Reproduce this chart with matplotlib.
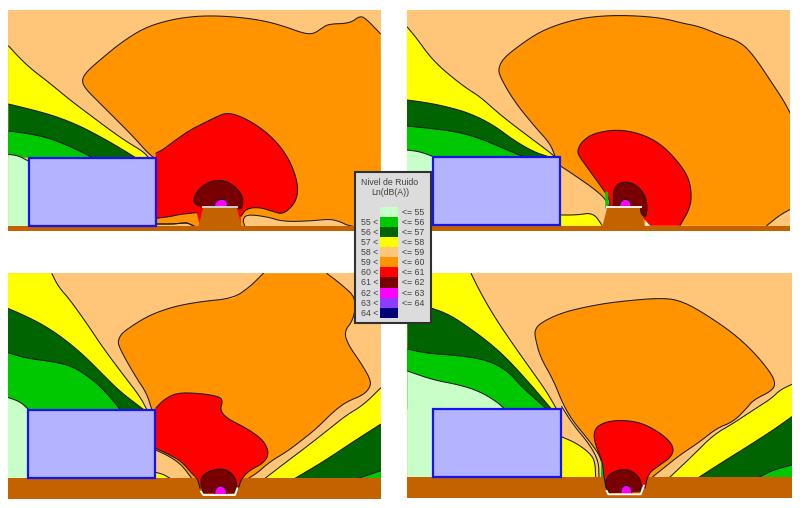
import matplotlib
matplotlib.use("Agg")
import matplotlib.pyplot as plt
from matplotlib.patches import Polygon, Rectangle

plt.rcParams['font.family'] = ['Liberation Sans', 'DejaVu Sans']

W, H = 800, 508

# colours of the noise classes
C_LGREEN = '#C8FFC8'
C_GREEN = '#00C800'
C_DGREEN = '#006400'
C_YELLOW = '#FFFF00'
C_LORANGE = '#FFC67A'
C_ORANGE = '#FF9400'
C_RED = '#FF0000'
C_DRED = '#780000'
C_MAGENTA = '#FF00FF'
C_VIOLET = '#8C3CFF'
C_NAVY = '#000078'
C_GROUND = '#C46200'
C_BUILD = '#B3B3FF'
C_BUILD_EDGE = '#1414F0'

legend_colors = [C_LGREEN, C_GREEN, C_DGREEN, C_YELLOW, C_LORANGE, C_ORANGE,
                 C_RED, C_DRED, C_MAGENTA, C_VIOLET, C_NAVY]
legend_low = [None, 55, 56, 57, 58, 59, 60, 61, 62, 63, 64]
legend_high = [55, 56, 57, 58, 59, 60, 61, 62, 63, 64, None]

# panel 1, contours (curve, closing points)
p1_yellow = [(25,137),(60,175),(95,208),(150,250),(210,300),(270,345),(330,390),(380,425),(430,455),(445,472)]
p1_yellow_end = [(25,472)]
p1_dgreen = [(25,312),(100,330),(170,350),(240,378),(310,415),(370,450),(405,472)]
p1_dgreen_end = [(25,472)]
p1_green = [(25,393),(80,400),(140,412),(200,435),(250,458),(275,472)]
p1_green_end = [(25,472)]
p1_lgreen = [(25,463),(55,467),(85,483)]
p1_lgreen_end = [(85,680),(25,680)]
p1_orange = [(467,672),(520,672),(560,668),(582,678)]
p1_orange2 = [(1142,102),(1100,58),(1080,47),(1050,70),(985,72),(965,85),(940,102),(910,100),(850,78),(790,62),
              (720,52),(640,47),(570,50),(500,62),(430,85),(360,130),(300,180),(260,215),(245,240),(255,265),
              (300,310),(350,360),(400,410),(440,455),(460,472)]
p1_orange3 = [(1062,680),(1040,675),(1020,665),(990,657),(930,663),(850,665),(800,650),(740,643),(728,660),(735,680)]
p1_red = [(722,650),(740,625),(780,622),(820,635),(850,643),(885,610),(895,570),(885,520),(860,465),(820,415),
          (770,375),(720,348),(680,338),(650,350),(610,370),(570,390),(520,425),(490,448),(467,460)]
p1_red2 = [(467,655),(510,650),(540,643),(590,638)]
p1_dred = [(608,622),(585,612),(580,600),(590,575),(620,548),(655,539),(690,548),(720,575),(730,600),(725,630),(710,622)]
p1_magenta = [(641,622),(648,604),(665,596),(682,604),(682,622)]
p1_mound = [(610,622),(710,622),(725,680),(595,680)]

# panel 2
p2_yellow = [(21,80),(50,115),(90,170),(130,210),(195,262),(240,290),(290,335),(340,375),(400,420),(440,450),(465,470)]
p2_yellow_end = [(21,470)]
p2_dgreen = [(21,300),(80,308),(140,320),(210,340),(280,375),(340,420),(400,455),(445,470)]
p2_dgreen_end = [(21,470)]
p2_green = [(21,378),(90,385),(170,395),(240,415),(310,445),(370,470)]
p2_green_end = [(21,470)]
p2_lgreen = [(21,450),(60,455),(100,470)]
p2_lgreen_end = [(100,677),(21,677)]
p2_yellow2 = [(482,645),(530,645),(580,638),(607,677)]
p2_yellow2_end = [(482,677)]
p2_orange = [(465,468),(450,430),(400,375),(340,300),(300,230),(295,205),(310,175),(360,135),(420,95),(490,68),
             (560,52),(640,46),(720,48),(790,55),(850,70),(900,80),(960,105),(1020,125),(1060,165),(1110,240),
             (1150,300),(1171,340)]
p2_orange2 = [(1171,628),(1140,645),(1100,677)]
p2_orange3 = [(630,625),(615,595),(580,565),(530,530),(480,497)]
p2_red = [(840,677),(870,625),(875,580),(865,530),(830,480),(780,430),(720,400),(650,388),(580,400),(545,425),
          (533,450),(535,465),(560,500),(600,555),(628,595),(630,622)]
p2_red_end = [(722,622),(730,655),(750,677)]
p2_sliver = [(616,575),(624,575),(626,625),(616,625)]
p2_dred = [(640,622),(640,570),(655,550),(680,545),(710,555),(735,585),(742,620),(738,655),(722,640),(722,622)]
p2_magenta = [(658,620),(663,603),(678,596),(692,606),(693,622)]
p2_mound = [(622,622),(722,622),(735,680),(607,680)]
p2_white = [(735,660),(750,677),(738,677)]

# panel 3
p3_yellow = [(155,25),(175,65),(210,105),(260,175),(310,250),(370,330),(420,395),(440,433)]
p3_yellow_end = [(23,433),(23,25)]
p3_dgreen = [(23,130),(70,150),(130,180),(190,220),(250,270),(310,330),(360,380),(430,433)]
p3_dgreen_end = [(23,433)]
p3_green = [(23,263),(80,280),(160,290),(220,305),(280,345),(330,395),(360,433)]
p3_green_end = [(23,433)]
p3_lgreen = [(23,397),(60,410),(85,433)]
p3_lgreen_end = [(85,640),(23,640)]
p3_yellow2 = [(467,622),(490,628),(510,640)]
p3_yellow2_end = [(467,640)]
p3_yellow3 = [(1143,368),(1090,420),(1040,450),(990,490),(920,545),(860,590),(795,640)]
p3_yellow3_end = [(1143,640)]
p3_dgreen2 = [(1143,477),(1060,530),(970,590),(885,640)]
p3_dgreen2_end = [(1143,640)]
p3_green2 = [(1143,617),(1075,640)]
p3_green2_end = [(1143,640)]
p3_orange = [(745,640),(770,625),(810,590),(860,560),(900,530),(950,490),(1000,440),(1040,410),(1090,390),(1112,365),
             (1110,340),(1080,290),(1045,240),(1032,200),(1060,165),(1070,100),(1020,55),(980,25)]
p3_orange2 = [(790,25),(750,65),(700,100),(600,110),(520,125),(450,150),(400,180),(365,205),(355,225),(355,240),
              (375,280),(410,340),(440,385),(455,433)]
p3_orange3 = [(467,555),(510,575),(545,600),(575,640)]
p3_red = [(715,670),(725,640),(750,615),(790,595),(808,565),(790,525),(740,490),(680,460),(660,435),(668,410),
          (660,395),(600,385),(530,383),(490,405),(467,430)]
p3_red2 = [(467,550),(510,570),(545,590),(575,625),(592,640),(600,670)]
p3_dred = [(610,685),(600,645),(615,625),(645,612),(680,613),(705,635),(712,665),(700,685)]
p3_magenta = [(643,688),(648,668),(662,661),(677,670),(680,688)]
p3_white = [(603,680),(610,690),(705,690),(712,670)]

# panel 4
p4_yellow = [(213,25),(240,80),(280,150),(330,225),(390,310),(440,380),(470,433)]
p4_yellow_end = [(22,433),(22,25)]
p4_dgreen = [(22,115),(90,127),(150,150),(210,190),(270,235),(320,280),(380,345),(440,415),(455,433)]
p4_dgreen_end = [(22,433)]
p4_green = [(22,252),(80,265),(180,272),(260,285),(320,315),(370,370),(410,405),(440,433)]
p4_green_end = [(22,433)]
p4_lgreen = [(22,318),(100,345),(180,360),(240,380),(290,410),(315,433)]
p4_lgreen_end = [(100,433),(100,637),(22,637)]
p4_yellow2 = [(484,515),(530,535),(570,565),(585,590),(587,638)]
p4_yellow2_end = [(484,638)]
p4_yellow3 = [(1176,358),(1140,375),(1115,400),(1060,435),(1000,475),(940,510),(880,570),(808,638)]
p4_yellow3_end = [(1176,638)]
p4_dgreen2 = [(1176,455),(1120,495),(1050,540),(970,590),(895,638)]
p4_dgreen2_end = [(1176,638)]
p4_green2 = [(1176,600),(1120,615),(1075,638)]
p4_green2_end = [(1176,638)]
p4_orange = [(755,638),(790,610),(840,570),(900,530),(950,490),(1000,470),(1040,430),(1060,405),(1115,378),(1127,355),
             (1110,320),(1060,260),(1000,205),(920,150),(850,110),(790,98),(650,110),(560,125),(480,145),(420,175),
             (405,195),(405,215),(420,275),(460,345),(490,420),(520,470),(570,530),(605,580),(610,638)]
p4_orange_in = [(597,638),(596,590),(570,540),(520,480),(485,425)]
p4_red = [(735,670),(745,625),(780,600),(815,575),(822,545),(790,510),(730,475),(670,465),(620,470),(590,485),
          (580,510),(590,550),(608,590),(612,640),(620,670)]
p4_sliver = [(603,588),(611,588),(611,638),(603,638)]
p4_dred = [(630,685),(618,670),(615,650),(630,625),(670,611),(705,622),(725,650),(722,680)]
p4_magenta = [(662,685),(666,666),(680,660),(694,668),(696,685)]
p4_white = [(620,678),(625,688),(722,688),(732,662)]


def smooth(pts, n=2):
    # corner cutting, keeps both end points
    for _ in range(n):
        out = [pts[0]]
        for a, b in zip(pts[:-1], pts[1:]):
            out.append((0.75*a[0]+0.25*b[0], 0.75*a[1]+0.25*b[1]))
            out.append((0.25*a[0]+0.75*b[0], 0.25*a[1]+0.75*b[1]))
        out.append(pts[-1])
        pts = out
    return pts


def region(ax, curve, color, close=(), z=2, lw=0.75):
    c = smooth(curve)
    ax.add_patch(Polygon(c + list(close), closed=True, fc=color, ec='none', zorder=z))
    ax.plot([p[0] for p in c], [p[1] for p in c], color='#1a1a1a', lw=lw, zorder=z+0.1,
            solid_capstyle='butt')


def new_panel(x0, x1, y0, y1, xlim, ylim):
    # x0..y1 in image pixels, xlim/ylim in the crop units of the contours
    ax = fig.add_axes([x0/W, 1-y1/H, (x1-x0)/W, (y1-y0)/H])
    ax.set_xlim(*xlim)
    ax.set_ylim(ylim[1], ylim[0])
    ax.axis('off')
    ax.add_patch(Rectangle((xlim[0], ylim[0]), xlim[1]-xlim[0], ylim[1]-ylim[0], fc=C_LORANGE, ec='none', zorder=1))
    return ax


def ground(ax, x0, x1, y0, y1):
    ax.add_patch(Rectangle((x0, y0), x1-x0, y1-y0, fc=C_GROUND, ec='none', zorder=6))


def building(ax, x0, x1, y0, y1):
    ax.add_patch(Rectangle((x0, y0), x1-x0, y1-y0, fc=C_BUILD, ec=C_BUILD_EDGE, lw=1.6, zorder=12))


fig = plt.figure(figsize=(W/100, H/100), dpi=100)

# panel 1
ax = new_panel(8.3, 380.7, 10, 231, (25, 1142), (30, 693))
region(ax, p1_yellow, C_YELLOW, p1_yellow_end)
region(ax, p1_dgreen, C_DGREEN, p1_dgreen_end, z=3)
region(ax, p1_green, C_GREEN, p1_green_end, z=4)
region(ax, p1_lgreen, C_LGREEN, p1_lgreen_end, z=5)
region(ax, p1_orange2, C_ORANGE, [(460,480),(467,672),(520,672),(560,668),(582,678),(735,680)] + p1_orange3[::-1] + [(1062,680),(1142,680)], z=2.5)
ax.plot([p[0] for p in p1_orange], [p[1] for p in p1_orange], color='#1a1a1a', lw=0.75, zorder=5)
region(ax, p1_orange3, C_LORANGE, [(735,680)], z=3)
region(ax, p1_orange, C_LORANGE, [(467,680)], z=3)
region(ax, p1_red, C_RED, p1_red2 + [(600,680),(722,680)], z=4)
ax.plot([p[0] for p in smooth(p1_red2)], [p[1] for p in smooth(p1_red2)], color='#1a1a1a', lw=0.75, zorder=5)
ground(ax, 25, 1142, 678, 693)
ax.add_patch(Polygon(p1_mound, closed=True, fc=C_GROUND, ec='none', zorder=7))
region(ax, p1_dred, C_DRED, z=8)
region(ax, p1_magenta, C_MAGENTA, z=9)
ax.plot([608, 710], [622, 622], color='#D0D0D0', lw=1.4, zorder=10)
building(ax, 86, 467, 473, 677)

# panel 2
ax = new_panel(407, 790.3, 10, 231, (21, 1171), (30, 693))
region(ax, p2_yellow, C_YELLOW, p2_yellow_end)
region(ax, p2_dgreen, C_DGREEN, p2_dgreen_end, z=3)
region(ax, p2_green, C_GREEN, p2_green_end, z=4)
region(ax, p2_lgreen, C_LGREEN, p2_lgreen_end, z=5)
region(ax, p2_orange, C_ORANGE, p2_orange2 + [(750,677)] + p2_orange3, z=2.5)
ax.plot([p[0] for p in smooth(p2_orange2)], [p[1] for p in smooth(p2_orange2)], color='#1a1a1a', lw=0.75, zorder=3)
ax.plot([p[0] for p in smooth(p2_orange3)], [p[1] for p in smooth(p2_orange3)], color='#1a1a1a', lw=0.75, zorder=3)
region(ax, p2_yellow2, C_YELLOW, p2_yellow2_end, z=3)
region(ax, p2_red, C_RED, p2_red_end, z=4)
ax.add_patch(Polygon(p2_white, closed=True, fc='white', ec='none', zorder=5))
ax.add_patch(Polygon(p2_sliver, closed=True, fc=C_GREEN, ec='none', zorder=5))
ground(ax, 21, 1171, 677, 693)
ax.add_patch(Polygon(p2_mound, closed=True, fc=C_GROUND, ec='none', zorder=7))
region(ax, p2_dred, C_DRED, z=8)
region(ax, p2_magenta, C_MAGENTA, z=9)
ax.plot([622, 722], [622, 622], color='#F0F0F0', lw=1.4, zorder=10)
building(ax, 99, 480, 471, 676)

# panel 3
ax = new_panel(7.7, 381, 273.3, 499, (23, 1143), (25, 702))
region(ax, p3_yellow, C_YELLOW, p3_yellow_end)
region(ax, p3_dgreen, C_DGREEN, p3_dgreen_end, z=3)
region(ax, p3_green, C_GREEN, p3_green_end, z=4)
region(ax, p3_lgreen, C_LGREEN, p3_lgreen_end, z=5)
region(ax, p3_yellow2, C_YELLOW, p3_yellow2_end, z=3)
region(ax, p3_yellow3, C_YELLOW, p3_yellow3_end, z=3)
region(ax, p3_dgreen2, C_DGREEN, p3_dgreen2_end, z=3.5)
region(ax, p3_green2, C_GREEN, p3_green2_end, z=4)
region(ax, p3_orange, C_ORANGE, p3_orange2 + [(467,433)] + p3_orange3, z=2.5)
ax.plot([p[0] for p in smooth(p3_orange2)], [p[1] for p in smooth(p3_orange2)], color='#1a1a1a', lw=0.75, zorder=3)
ax.plot([p[0] for p in smooth(p3_orange3)], [p[1] for p in smooth(p3_orange3)], color='#1a1a1a', lw=0.75, zorder=3)
ground(ax, 23, 1143, 640, 702)
region(ax, p3_red, C_RED, p3_red2, z=7)
ax.plot([p[0] for p in smooth(p3_red2)], [p[1] for p in smooth(p3_red2)], color='#1a1a1a', lw=0.75, zorder=7.1)
region(ax, p3_dred, C_DRED, z=8)
region(ax, p3_magenta, C_MAGENTA, z=9)
ax.plot([p[0] for p in p3_white], [p[1] for p in p3_white], color='white', lw=1.3, zorder=10)
building(ax, 85, 466, 434, 638)

# panel 4
ax = new_panel(407.3, 792, 273.3, 498.3, (22, 1176), (25, 700))
region(ax, p4_yellow, C_YELLOW, p4_yellow_end)
region(ax, p4_dgreen, C_DGREEN, p4_dgreen_end, z=3)
region(ax, p4_green, C_GREEN, p4_green_end, z=4)
region(ax, p4_lgreen, C_LGREEN, p4_lgreen_end, z=5)
region(ax, p4_yellow2, C_YELLOW, p4_yellow2_end, z=3)
region(ax, p4_yellow3, C_YELLOW, p4_yellow3_end, z=3)
region(ax, p4_dgreen2, C_DGREEN, p4_dgreen2_end, z=3.5)
region(ax, p4_green2, C_GREEN, p4_green2_end, z=4)
region(ax, p4_orange, C_ORANGE, z=2.5)
ax.plot([p[0] for p in smooth(p4_orange_in)], [p[1] for p in smooth(p4_orange_in)], color='#1a1a1a', lw=0.75, zorder=3)
ax.add_patch(Polygon(smooth(p4_orange_in) + [(610,638),(610,580)], closed=True, fc=C_LORANGE, ec='none', zorder=2.6))
ax.add_patch(Polygon(p4_sliver, closed=True, fc=C_GREEN, ec='none', zorder=5))
ground(ax, 22, 1176, 637, 700)
region(ax, p4_red, C_RED, z=7)
region(ax, p4_dred, C_DRED, z=8)
region(ax, p4_magenta, C_MAGENTA, z=9)
ax.plot([p[0] for p in p4_white], [p[1] for p in p4_white], color='white', lw=1.3, zorder=10)
building(ax, 100, 482, 433, 637)

# legend box on top of all panels, in image pixels
lg = fig.add_axes([0, 0, 1, 1], facecolor='none')
lg.set_xlim(0, W)
lg.set_ylim(H, 0)
lg.axis('off')
lg.add_patch(Rectangle((354.7, 172), 76, 150.7, fc='#DCDCDC', ec='#303030', lw=1.5, zorder=1))
lg.text(390, 182.3, 'Nivel de Ruido', ha='center', va='center', fontsize=6.3, color='#404040', zorder=3)
lg.text(390, 192.3, 'Ln(dB(A))', ha='center', va='center', fontsize=6.3, color='#404040', zorder=3)
for i, col in enumerate(legend_colors):
    y = 207 + i*10.07
    lg.add_patch(Rectangle((380, y), 18.3, 10.07, fc=col, ec='none', zorder=2))
    if legend_low[i] is not None:
        lg.text(378.3, y+5.5, '%d <' % legend_low[i], ha='right', va='center', fontsize=6.3, color='#404040', zorder=3)
    if legend_high[i] is not None:
        lg.text(401.7, y+5.5, '<= %d' % legend_high[i], ha='left', va='center', fontsize=6.3, color='#404040', zorder=3)

fig.savefig('out.png', dpi=100)
